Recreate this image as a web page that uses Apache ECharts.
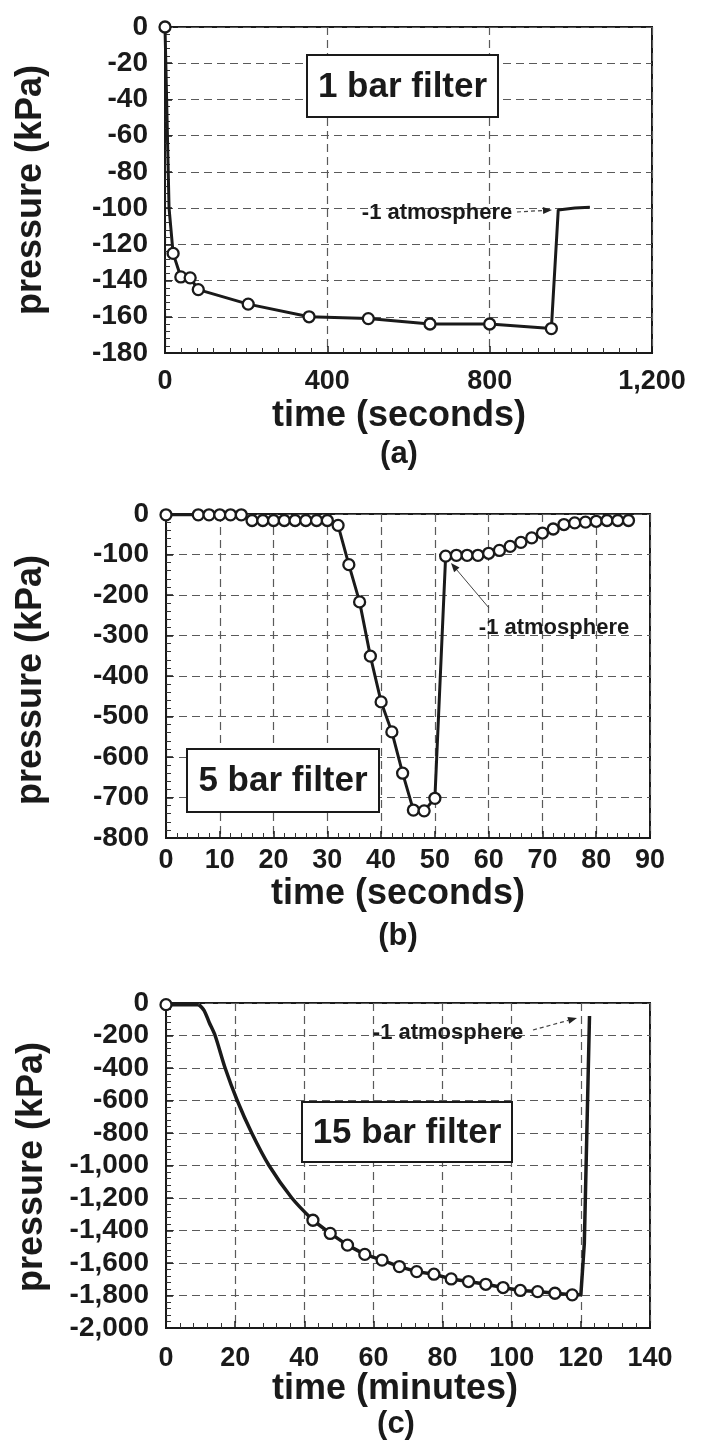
<!DOCTYPE html>
<html><head><meta charset="utf-8">
<script src="https://cdn.jsdelivr.net/npm/echarts@6.0.0/dist/echarts.min.js"></script>
<style>html,body{margin:0;padding:0;background:#fff}#chart{width:706px;height:1450px}</style>
</head><body><div id="chart"></div>
<script>
// ---------- Panel (a): 1 bar filter (time in seconds, pressure in kPa)
const aLineTime     = [0, 10, 20, 39, 62, 82, 205, 355, 501, 653, 800, 952, 969, 1010, 1047];
const aLinePressure = [0, -100, -125, -138, -138.5, -145, -153, -160, -161, -164, -164, -166.5, -101, -100, -99.5];
const aMarkTime     = [0, 20, 39, 62, 82, 205, 355, 501, 653, 800, 952];
const aMarkPressure = [0, -125, -138, -138.5, -145, -153, -160, -161, -164, -164, -166.5];

// ---------- Panel (b): 5 bar filter (time in seconds)
const bTime = [0, 6, 8, 10, 12, 14, 16, 18, 20, 22, 24, 26, 28, 30, 32, 34, 36, 38, 40, 42, 44, 46, 48, 50,
               52, 54, 56, 58, 60, 62, 64, 66, 68, 70, 72, 74, 76, 78, 80, 82, 84, 86];
const bPressure = [-2, -2, -2, -2, -2, -2, -16, -16, -16, -16, -16, -16, -16, -16,
                   -28, -125, -217, -351, -464, -538, -640, -731, -733, -702,
                   -104, -102, -102, -102, -97, -90, -80, -70, -59, -47, -37, -26, -22, -20, -18, -16, -16, -16];

// ---------- Panel (c): 15 bar filter (time in minutes)
const cFlatTime      = [0, 9.5];
const cFlatPressure  = [-10, -10];
const cCurveTime     = [9.5, 11, 12.5, 14.2, 17.1, 20.6, 24.8, 29.8, 36.4, 42.5];
const cCurvePressure = [-10, -45, -120, -200, -400, -600, -800, -1000, -1200, -1337];
const cMarkTime      = [42.5, 47.5, 52.5, 57.5, 62.5, 67.5, 72.5, 77.5, 82.5, 87.5, 92.5, 97.5, 102.5, 107.5, 112.5, 117.5];
const cMarkPressure  = [-1337, -1418, -1490, -1547, -1582, -1622, -1653, -1669, -1698, -1714, -1731, -1751, -1769, -1776, -1786, -1796];
const cRiseTime      = [117.5, 120, 121, 122.5];
const cRisePressure  = [-1796, -1796, -1480, -80];

// ---------- Axis tick settings
const aXTicks = {min: 0, max: 1200, interval: 400};
const aYTicks = {min: -180, max: 0, interval: 20};
const bXTicks = {min: 0, max: 90, interval: 10};
const bYTicks = {min: -800, max: 0, interval: 100};
const cXTicks = {min: 0, max: 140, interval: 20};
const cYTicks = {min: -2000, max: 0, interval: 200};

const zip = (xs, ys) => xs.map((x, i) => [x, ys[i]]);
const fmt = v => String(v).replace(/\B(?=(\d{3})+(?!\d))/g, ',');
const FONT = '"Liberation Sans", Arial, Helvetica, sans-serif';
const INK = '#1a1a1a';

const gridBox = (left, top, width, height) => ({
  left, top, width, height, show: true, borderColor: INK, borderWidth: 2,
  backgroundColor: 'transparent', containLabel: false, outerBoundsMode: 'none'
});
const splitStyle = {show: true, lineStyle: {color: '#5a5a5a', width: 1.2, type: [8, 5]}};

function xAxis(gi, t, minorN, margin) {
  return {
    type: 'value', gridIndex: gi, min: t.min, max: t.max, interval: t.interval,
    axisLine: {show: true, onZero: false, lineStyle: {color: INK, width: 2}},
    axisTick: {show: true, inside: true, length: 7, lineStyle: {color: INK, width: 1.5}},
    minorTick: {show: true, splitNumber: minorN, length: 5, lineStyle: {color: '#333', width: 1}},
    splitLine: splitStyle,
    axisLabel: {margin, color: INK, fontFamily: FONT, fontWeight: 'bold', fontSize: 27, formatter: fmt,
                showMinLabel: true, showMaxLabel: true, hideOverlap: false}
  };
}
function yAxis(gi, t, minorN) {
  return {
    type: 'value', gridIndex: gi, min: t.min, max: t.max, interval: t.interval,
    axisLine: {show: true, onZero: false, lineStyle: {color: INK, width: 2}},
    axisTick: {show: true, inside: true, length: 7, lineStyle: {color: INK, width: 1.5}},
    minorTick: {show: true, splitNumber: minorN, length: 5, lineStyle: {color: '#333', width: 1}},
    splitLine: splitStyle,
    axisLabel: {margin: 17, color: INK, fontFamily: FONT, fontWeight: 'bold', fontSize: 28, formatter: fmt,
                showMinLabel: true, showMaxLabel: true, hideOverlap: false}
  };
}

const lineSeries = (gi, data, width, smooth) => ({
  type: 'line', xAxisIndex: gi, yAxisIndex: gi, data, showSymbol: false, symbol: 'none',
  smooth: smooth || false,
  lineStyle: {color: INK, width}, z: 3, silent: true, animation: false
});
const markSeries = (gi, data) => ({
  type: 'scatter', xAxisIndex: gi, yAxisIndex: gi, data, symbol: 'circle', symbolSize: 11,
  itemStyle: {color: '#fff', borderColor: INK, borderWidth: 2.3, opacity: 1}, z: 4, animation: false
});

// ---------- Annotation helpers (pixel layout)
const txt = (x, y, text, size, opts) => Object.assign({
  type: 'text', x, y, z: 100,
  style: {text, font: 'bold ' + size + 'px ' + FONT, fill: INK, align: 'center', verticalAlign: 'middle'}
}, opts || {});
const boxLabel = (x0, y0, x1, y1, text) => [
  {type: 'rect', z: 90, shape: {x: x0, y: y0, width: x1 - x0, height: y1 - y0},
   style: {fill: '#fff', stroke: INK, lineWidth: 2}},
  txt((x0 + x1) / 2, (y0 + y1) / 2 + 1, text, 35)
];
function arrow(x0, y0, x1, y1, dashed, width) {
  const dx = x1 - x0, dy = y1 - y0, L = Math.hypot(dx, dy), ux = dx / L, uy = dy / L;
  const bx = x1 - 9 * ux, by = y1 - 9 * uy, px = -uy * 3.5, py = ux * 3.5;
  return [
    {type: 'line', z: 95, shape: {x1: x0, y1: y0, x2: bx, y2: by},
     style: {stroke: '#444', lineWidth: width, lineDash: dashed ? [4, 3] : null}},
    {type: 'polygon', z: 95, shape: {points: [[x1, y1], [bx + px, by + py], [bx - px, by - py]]},
     style: {fill: '#222'}}
  ];
}
const vName = (x, y, text) => txt(x, y, text, 36, {rotation: Math.PI / 2});

const graphic = [].concat(
  // panel a
  boxLabel(307, 55, 498, 117, '1 bar filter'),
  [txt(437, 213, '-1 atmosphere', 22)],
  arrow(517, 212, 552, 210, true, 1.2),
  [vName(31, 190, 'pressure (kPa)'), txt(399, 416, 'time (seconds)', 36), txt(399, 454, '(a)', 31)],
  // panel b
  boxLabel(187, 749, 379, 812, '5 bar filter'),
  [txt(554, 628, '-1 atmosphere', 22)],
  arrow(489, 608, 451, 563, false, 1),
  [vName(31, 680, 'pressure (kPa)'), txt(398, 894, 'time (seconds)', 36), txt(398, 936, '(b)', 31)],
  // panel c
  boxLabel(302, 1102, 512, 1162, '15 bar filter'),
  [txt(448, 1033, '-1 atmosphere', 22)],
  arrow(533, 1030, 577, 1018, true, 1.2),
  [vName(32, 1167, 'pressure (kPa)'), txt(395, 1389, 'time (minutes)', 36), txt(396, 1424, '(c)', 31)]
);

const chart = echarts.init(document.getElementById('chart'), null, {renderer: 'canvas'});
chart.setOption({
  backgroundColor: '#fff',
  animation: false,
  grid: [gridBox(165, 27, 487, 326), gridBox(166, 514, 484, 324), gridBox(166, 1003, 484, 325)],
  xAxis: [xAxis(0, aXTicks, 10, 15), xAxis(1, bXTicks, 5, 9), xAxis(2, cXTicks, 5, 17)],
  yAxis: [yAxis(0, aYTicks, 5), yAxis(1, bYTicks, 5), yAxis(2, cYTicks, 5)],
  series: [
    lineSeries(0, zip(aLineTime, aLinePressure), 3),
    markSeries(0, zip(aMarkTime, aMarkPressure)),
    lineSeries(1, zip(bTime, bPressure), 3),
    markSeries(1, zip(bTime, bPressure)),
    lineSeries(2, zip(cFlatTime, cFlatPressure), 3.5),
    lineSeries(2, zip(cCurveTime, cCurvePressure), 3.5, 0.3),
    lineSeries(2, zip(cMarkTime.concat(cRiseTime.slice(1)), cMarkPressure.concat(cRisePressure.slice(1))), 3.5),
    markSeries(2, [[cFlatTime[0], cFlatPressure[0]]].concat(zip(cMarkTime, cMarkPressure)))
  ],
  graphic
});
</script>
</body></html>
